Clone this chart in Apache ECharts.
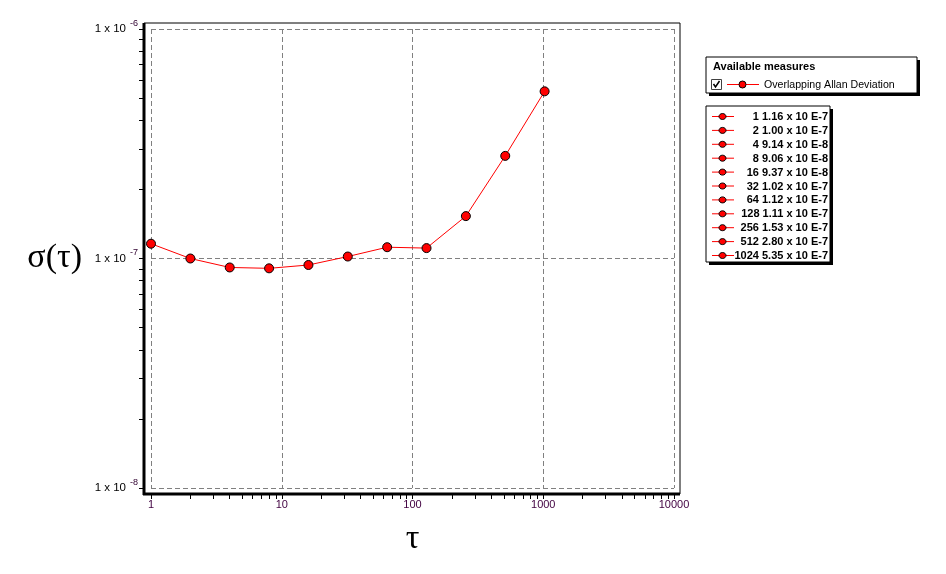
<!DOCTYPE html>
<html><head><meta charset="utf-8">
<script src="https://cdn.jsdelivr.net/npm/echarts@6/dist/echarts.min.js"></script>
<style>html,body{margin:0;padding:0;background:#fff}#c{width:946px;height:574px}</style>
</head><body><div id="c"></div>
<script>
// ---- data ----
const tau = [1, 2, 4, 8, 16, 32, 64, 128, 256, 512, 1024];
const adev = [1.16e-7, 1.00e-7, 9.14e-8, 9.06e-8, 9.37e-8, 1.02e-7, 1.12e-7, 1.11e-7, 1.53e-7, 2.80e-7, 5.35e-7];
const seriesName = 'Overlapping Allan Deviation';
const legendTitle = 'Available measures';
const xName = 'τ';
const yName = 'σ(τ)';
const xRange = [1, 10000];
const yRange = [1e-8, 1e-6];

// ---- layout ----
const W = 946, H = 574;
const G = { left: 151, right: 272, top: 29, bottom: 86 };
const gx1 = W - G.right, gy1 = H - G.bottom;
const fL = G.left - 7, fR = gx1 + 6, fT = G.top - 6, fB = gy1 + 6;
const SANS = '"Liberation Sans", Arial, sans-serif';
const SERIF = '"Liberation Serif", "Times New Roman", serif';

function fmtSci(v) {
  let e = Math.floor(Math.log10(v) + 1e-9);
  let m = v / Math.pow(10, e);
  if (m >= 9.995) { m /= 10; e += 1; }
  return m.toFixed(2) + ' x 10 E' + e;
}

const graphics = [];
// plot frame
graphics.push({ type: 'rect', silent: true, z: 10, shape: { x: fL, y: fT, width: fR - fL, height: fB - fT },
  style: { fill: 'none', stroke: '#000', lineWidth: 1 } });
graphics.push({ type: 'line', silent: true, z: 11, shape: { x1: fL, y1: fT, x2: fL, y2: fB + 1 },
  style: { stroke: '#000', lineWidth: 3 } });
graphics.push({ type: 'line', silent: true, z: 11, shape: { x1: fL - 1, y1: fB, x2: fR, y2: fB },
  style: { stroke: '#000', lineWidth: 3 } });

// legend box 1
const b1 = { x: 706, y: 57, w: 211, h: 36 };
graphics.push({ type: 'rect', silent: true, shape: { x: b1.x + 3, y: b1.y + 3, width: b1.w, height: b1.h }, style: { fill: '#000' } });
graphics.push({ type: 'rect', silent: true, shape: { x: b1.x, y: b1.y, width: b1.w, height: b1.h }, style: { fill: '#fff', stroke: '#000', lineWidth: 1 } });
graphics.push({ type: 'text', silent: true, x: b1.x + 7, y: b1.y + 10, style: { text: legendTitle, font: 'bold 11px ' + SANS, fill: '#000', verticalAlign: 'middle' } });
graphics.push({ type: 'rect', silent: true, shape: { x: b1.x + 5.5, y: b1.y + 22.5, width: 10, height: 10 }, style: { fill: '#fff', stroke: '#404040', lineWidth: 1 } });
graphics.push({ type: 'polyline', silent: true, shape: { points: [[b1.x + 7.5, b1.y + 27], [b1.x + 9.5, b1.y + 30], [b1.x + 13.5, b1.y + 24]] }, style: { fill: 'none', stroke: '#000', lineWidth: 1.5 } });
graphics.push({ type: 'line', silent: true, shape: { x1: b1.x + 21, y1: b1.y + 27.5, x2: b1.x + 53, y2: b1.y + 27.5 }, style: { stroke: '#ff0000', lineWidth: 1 } });
graphics.push({ type: 'circle', silent: true, shape: { cx: b1.x + 36.5, cy: b1.y + 27.5, r: 3.5 }, style: { fill: '#ff0000', stroke: '#000', lineWidth: 1 } });
graphics.push({ type: 'text', silent: true, x: b1.x + 58, y: b1.y + 28, style: { text: seriesName, font: '10.6px ' + SANS, fill: '#000', verticalAlign: 'middle' } });

// legend box 2 (values)
const b2 = { x: 706, y: 106, w: 124, h: 156 };
graphics.push({ type: 'rect', silent: true, shape: { x: b2.x + 3, y: b2.y + 3, width: b2.w, height: b2.h }, style: { fill: '#000' } });
graphics.push({ type: 'rect', silent: true, shape: { x: b2.x, y: b2.y, width: b2.w, height: b2.h }, style: { fill: '#fff', stroke: '#000', lineWidth: 1 } });
tau.forEach((t, i) => {
  const yy = b2.y + 10.5 + i * 13.9;
  graphics.push({ type: 'line', silent: true, shape: { x1: b2.x + 6, y1: yy, x2: b2.x + 28, y2: yy }, style: { stroke: '#ff0000', lineWidth: 1 } });
  graphics.push({ type: 'ellipse', silent: true, shape: { cx: b2.x + 16.5, cy: yy, rx: 3.5, ry: 3 }, style: { fill: '#ff0000', stroke: '#000', lineWidth: 1 } });
  graphics.push({ type: 'text', silent: true, x: b2.x + b2.w - 2, y: yy + 0.5, style: { text: t + ' ' + fmtSci(adev[i]), font: 'bold 11px ' + SANS, fill: '#000', align: 'right', verticalAlign: 'middle' } });
});

const chart = echarts.init(document.getElementById('c'), null, { renderer: 'canvas' });
chart.setOption({
  animation: false,
  backgroundColor: '#fff',
  grid: { left: G.left, right: G.right, top: G.top, bottom: G.bottom, containLabel: false },
  xAxis: {
    type: 'log', logBase: 10, min: xRange[0], max: xRange[1], interval: 1, offset: 6,
    name: xName, nameLocation: 'middle', nameGap: 28,
    nameTextStyle: { fontFamily: SERIF, fontSize: 34, color: '#000' },
    axisLine: { show: false },
    axisTick: { show: true, length: 5, lineStyle: { color: '#000' } },
    minorTick: { show: true, splitNumber: 9, length: 5, lineStyle: { color: '#000' } },
    axisLabel: { margin: 5, fontFamily: SANS, fontSize: 11, color: '#400040', formatter: v => String(Math.round(v)) },
    splitLine: { show: true, lineStyle: { color: '#808080', type: [5, 3], width: 1 } },
    minorSplitLine: { show: false }
  },
  yAxis: {
    type: 'log', logBase: 10, min: yRange[0], max: yRange[1], interval: 1, offset: 7,
    name: yName, nameLocation: 'middle', nameGap: 62, nameRotate: 0,
    nameTextStyle: { fontFamily: SERIF, fontSize: 34, color: '#000' },
    axisLine: { show: false },
    axisTick: { show: true, length: 5, lineStyle: { color: '#000' } },
    minorTick: { show: true, splitNumber: 9, length: 5, lineStyle: { color: '#000' } },
    axisLabel: {
      margin: 6,
      formatter: v => '{a|1 x 10}{s|' + Math.round(Math.log10(v)) + '}',
      rich: {
        a: { fontFamily: SANS, fontSize: 11.5, color: '#000' },
        s: { fontFamily: SANS, fontSize: 9, color: '#300030', padding: [0, 0, 11, 4] }
      }
    },
    splitLine: { show: true, lineStyle: { color: '#808080', type: [5, 3], width: 1 } }
  },
  series: [{
    name: seriesName, type: 'line',
    data: tau.map((t, i) => [t, adev[i]]),
    symbol: 'circle', symbolSize: 9,
    itemStyle: { color: '#ff0000', borderColor: '#000', borderWidth: 1 },
    lineStyle: { color: '#ff0000', width: 1 },
    z: 5
  }],
  graphic: graphics
});
</script>
</body></html>
